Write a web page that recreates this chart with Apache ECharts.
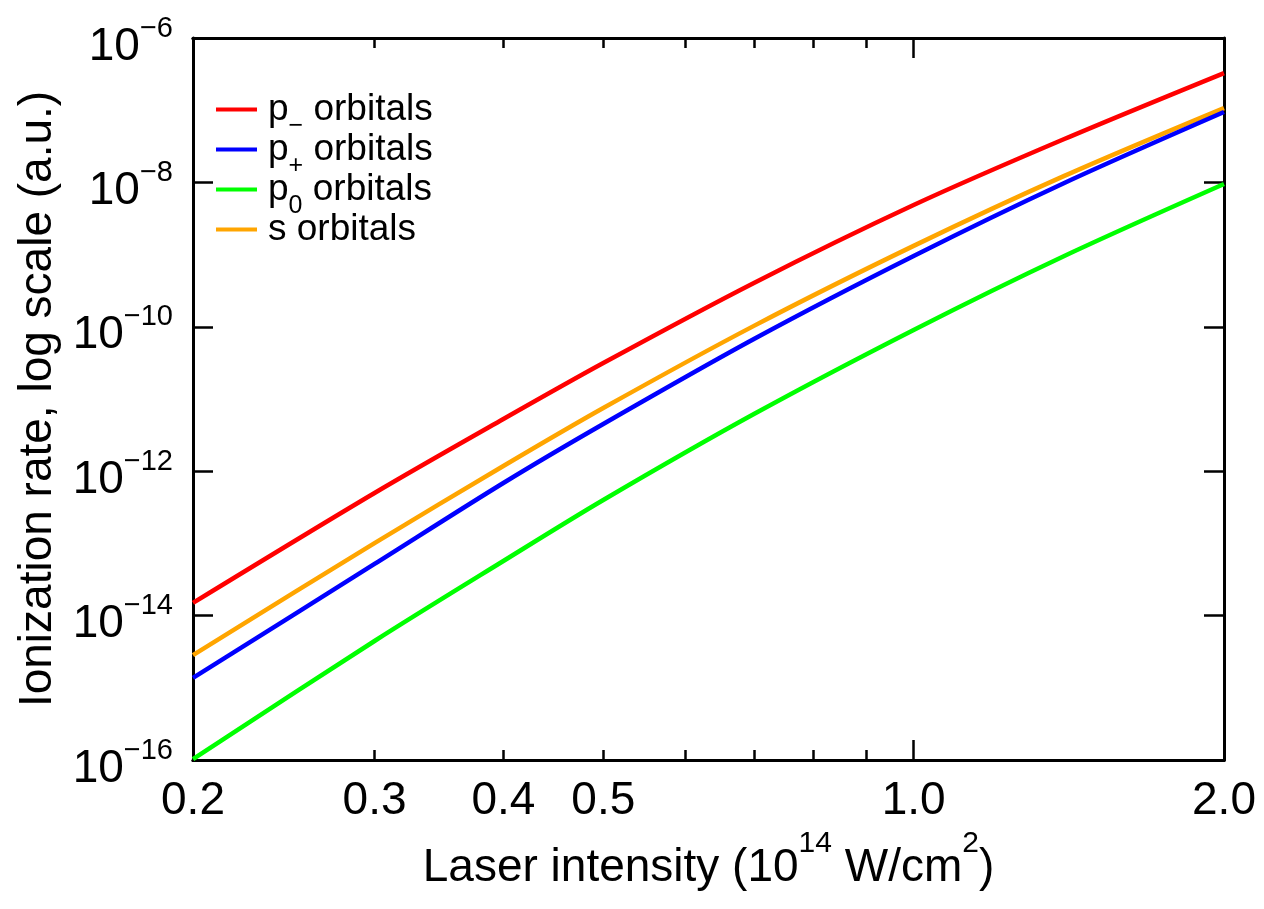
<!DOCTYPE html>
<html>
<head>
<meta charset="utf-8">
<script src="https://cdn.jsdelivr.net/npm/echarts@6/dist/echarts.min.js"></script>
<style>
html,body{margin:0;padding:0;background:#fff;}
#chart{width:1264px;height:909px;}
</style>
</head>
<body>
<div id="chart"></div>
<script>
// Laser intensity (10^14 W/cm^2)
const xVals = [0.2, 0.3, 0.4, 0.5, 0.7, 1.0, 1.4, 2.0];
// Ionization rates (a.u.)
const pMinus = [1.50e-14, 4.99e-13, 5.28e-12, 3.15e-11, 4.05e-10, 4.86e-9, 3.99e-8, 3.27e-7];
const pPlus  = [1.37e-15, 5.19e-14, 6.87e-13, 4.51e-12, 6.78e-11, 9.57e-10, 9.82e-9, 9.44e-8];
const pZero  = [1.03e-16, 4.45e-15, 5.70e-14, 3.99e-13, 6.19e-12, 9.04e-11, 9.57e-10, 9.5e-9];
const sOrb   = [2.84e-15, 1.01e-13, 1.18e-12, 7.5e-12, 1.03e-10, 1.32e-9, 1.23e-8, 1.07e-7];

const seriesNames = ['p− orbitals', 'p+ orbitals', 'p0 orbitals', 's orbitals'];
const seriesSubs = ['−', '+', '0', ''];
const seriesColors = ['#ff0000', '#0000ff', '#00ff00', '#ffa500'];

const xLabelValues = [0.2, 0.3, 0.4, 0.5, 1.0, 2.0];
const xMajorTicks = [0.2, 1.0, 2.0];
const xMinorTicks = [0.3, 0.4, 0.5, 0.6, 0.7, 0.8, 0.9];
const yExponents = [-16, -14, -12, -10, -8, -6];
const xRange = [0.2, 2.0];
const yRange = [1e-16, 1e-6];

const L = Math.log10;
const FONT = "'Liberation Sans', Arial, Helvetica, sans-serif";

const seriesData = [pMinus, pPlus, pZero, sOrb];
const drawOrder = [0, 3, 1, 2];

function mkSeries(i) {
  return {
    type: 'line',
    name: seriesNames[i],
    data: xVals.map((x, k) => [L(x), L(seriesData[i][k])]),
    showSymbol: false,
    symbol: 'none',
    smooth: 0.3,
    lineStyle: { width: 4.5, color: seriesColors[i] },
    itemStyle: { color: seriesColors[i] },
    xAxisIndex: 0, yAxisIndex: 0
  };
}

const xmin = L(xRange[0]), xmax = L(xRange[1]);
const ymin = L(yRange[0]), ymax = L(yRange[1]);

function xAx(pos, ticks, len, labels) {
  const ax = {
    type: 'value', position: pos, min: xmin, max: xmax,
    axisLine: { show: true, onZero: false, lineStyle: { color: '#000', width: 3 } },
    axisTick: { show: true, inside: true, length: len, lineStyle: { color: '#000', width: 2.5 },
      customValues: ticks.map(L) },
    axisLabel: { show: false },
    splitLine: { show: false }
  };
  if (labels) {
    ax.axisLabel = {
      show: true, customValues: xLabelValues.map(L), margin: 18,
      color: '#000', fontSize: 46, fontFamily: FONT,
      formatter: v => Math.pow(10, v).toFixed(1)
    };
    ax.name = '{m|Laser intensity (10}{sup|14}{m| W/cm}{sup|2}{m|)}';
    ax.nameLocation = 'middle';
    ax.nameGap = 68;
    ax.nameTextStyle = {
      color: '#000', fontFamily: FONT,
      rich: {
        m: { fontSize: 46, lineHeight: 46, padding: [16, 0, 0, 0], verticalAlign: 'middle', color: '#000', fontFamily: FONT },
        sup: { fontSize: 30, lineHeight: 30, padding: [0, 0, 32, 0], verticalAlign: 'middle', color: '#000', fontFamily: FONT }
      }
    };
  }
  return ax;
}

function yAx(pos, labels) {
  const ax = {
    type: 'value', position: pos, min: ymin, max: ymax,
    axisLine: { show: true, onZero: false, lineStyle: { color: '#000', width: 3 } },
    axisTick: { show: true, inside: true, length: 20, lineStyle: { color: '#000', width: 2.5 },
      customValues: yExponents },
    axisLabel: { show: false },
    splitLine: { show: false }
  };
  if (labels) {
    ax.axisLabel = {
      show: true, customValues: yExponents, margin: 20,
      formatter: v => '{b|10}{sup|−' + Math.abs(Math.round(v)) + '}',
      rich: {
        b: { fontSize: 46, lineHeight: 46, padding: [18, 0, 0, 0], verticalAlign: 'middle', color: '#000', fontFamily: FONT },
        sup: { fontSize: 29, lineHeight: 29, padding: [8, 0, 27, 0], verticalAlign: 'middle', color: '#000', fontFamily: FONT }
      }
    };
    ax.name = 'Ionization rate, log scale (a.u.)';
    ax.nameLocation = 'middle';
    ax.nameGap = 132;
    ax.nameTextStyle = { color: '#000', fontSize: 46, fontFamily: FONT };
  }
  return ax;
}

const chart = echarts.init(document.getElementById('chart'), null, { renderer: 'canvas' });
chart.setOption({
  animation: false,
  backgroundColor: '#fff',
  textStyle: { fontFamily: FONT, color: '#000' },
  grid: { left: 193, right: 40, top: 38, bottom: 149, containLabel: false },
  xAxis: [
    xAx('bottom', xMajorTicks, 20, true),
    xAx('bottom', xMinorTicks, 10, false),
    xAx('top', xMajorTicks, 20, false),
    xAx('top', xMinorTicks, 10, false)
  ],
  yAxis: [ yAx('left', true), yAx('right', false) ],
  legend: {
    data: seriesNames.slice(),
    orient: 'vertical',
    left: 216, top: 80, padding: 0,
    icon: 'rect',
    itemWidth: 41, itemHeight: 4, itemGap: -19,
    formatter: name => {
      const i = seriesNames.indexOf(name);
      const head = name.charAt(0);
      const rest = name.slice(name.indexOf(' '));
      return '{f|' + head + '}{s|' + seriesSubs[i] + '}{m|' + rest + '}{s| }';
    },
    textStyle: {
      color: '#000', fontFamily: FONT, fontSize: 37,
      rich: {
        f: { fontSize: 37, lineHeight: 40, padding: [0, 0, 0, 6], verticalAlign: 'middle', color: '#000', fontFamily: FONT },
        m: { fontSize: 37, lineHeight: 40, verticalAlign: 'middle', color: '#000', fontFamily: FONT },
        s: { fontSize: 25, lineHeight: 25, padding: [34, 0, 0, 0], verticalAlign: 'middle', color: '#000', fontFamily: FONT }
      }
    }
  },
  series: drawOrder.map(mkSeries)
});
</script>
</body>
</html>
